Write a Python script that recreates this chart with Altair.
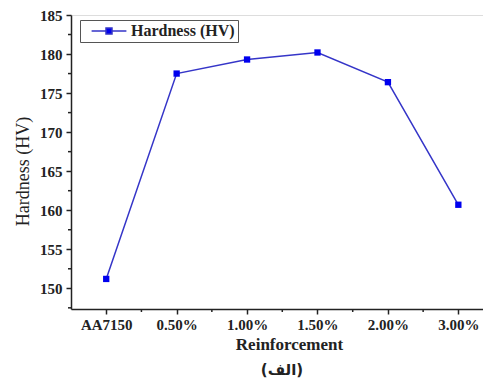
import altair as alt
import pandas as pd

categories = ["AA7150", "0.50%", "1.00%", "1.50%", "2.00%", "3.00%"]
positions = [1, 2, 3, 4, 5, 6]
hardness = [151.2, 177.5, 179.3, 180.2, 176.4, 160.7]
series = ["Hardness (HV)"] * 6

y_major = [150, 155, 160, 165, 170, 175, 180, 185]
y_minor = [147.5, 152.5, 157.5, 162.5, 167.5, 172.5, 177.5, 182.5]
x_minor = [1.5, 2.5, 3.5, 4.5, 5.5]

df = pd.DataFrame({"pos": positions, "cat": categories, "hv": hardness, "series": series})

cat_arr = "[" + ",".join(f"'{c}'" for c in categories) + "]"
x_label_expr = f"{cat_arr}[datum.value - 1]"

FONT = "Liberation Serif"
INK = "#222222"
W = 412
H = 294
xscale = alt.Scale(domain=[0.5, 6.35], nice=False, zero=False)
yscale = alt.Scale(domain=[147.35, 185], nice=False, zero=False)

x_axis = alt.Axis(values=positions, labelExpr=x_label_expr, title="Reinforcement",
                  labelFont=FONT, labelFontWeight="bold", labelFontSize=15, labelColor=INK,
                  titleFont=FONT, titleFontWeight="bold", titleFontSize=17, titleColor=INK,
                  titleX=218, titleY=35, titleBaseline="middle", titleAnchor="start",
                  titleAlign="center",
                  labelPadding=3, labelFlush=False, labelOverlap=False,
                  grid=False, domainColor=INK, domainWidth=1.5, tickColor=INK,
                  tickWidth=1.5, tickSize=5)
y_axis = alt.Axis(values=y_major, title="Hardness (HV)",
                  labelFont=FONT, labelFontWeight="bold", labelFontSize=15, labelColor=INK,
                  titleFont=FONT, titleFontWeight="normal", titleFontSize=18, titleColor=INK,
                  titleX=-48, titleY=156, titleBaseline="middle", titleAlign="center",
                  titleAnchor="start",
                  labelPadding=4, labelOverlap=False, labelFlush=False,
                  grid=False, domainColor=INK, domainWidth=1.5, tickColor=INK,
                  tickWidth=1.5, tickSize=5)

color = alt.Color("series:N", scale=alt.Scale(range=["#0000ee"]),
                  legend=alt.Legend(title=None, orient="none", legendX=9, legendY=5,
                                    strokeColor="#555", padding=3,
                                    symbolType="M-2.9,0L-0.5,0M0.5,0L2.9,0M-0.5,-0.5L0.5,-0.5L0.5,0.5L-0.5,0.5Z",
                                    symbolSize=144, symbolStrokeWidth=1.5, symbolOffset=18,
                                    symbolFillColor="#0000ee", symbolStrokeColor="#3535c8",
                                    labelFont=FONT, labelFontWeight="bold", labelFontSize=16,
                                    labelColor=INK, labelOffset=14))

base = alt.Chart(df)
line = base.mark_line(color="#3535c8", strokeWidth=1.5).encode(
    x=alt.X("pos:Q", scale=xscale, axis=x_axis),
    y=alt.Y("hv:Q", scale=yscale, axis=y_axis),
)
pts = base.mark_point(shape="square", filled=True, size=40, opacity=1).encode(
    x=alt.X("pos:Q", scale=xscale),
    y=alt.Y("hv:Q", scale=yscale),
    color=color,
)

ymin_df = pd.DataFrame({"v": y_minor})
xmin_df = pd.DataFrame({"v": x_minor})
minor_y = alt.Chart(ymin_df).mark_rule(color=INK, strokeWidth=1.5).encode(
    y=alt.Y("v:Q", scale=yscale), x=alt.value(-3), x2=alt.value(0)
)
minor_x = alt.Chart(xmin_df).mark_rule(color=INK, strokeWidth=1.5).encode(
    x=alt.X("v:Q", scale=xscale), y=alt.value(H), y2=alt.value(H + 3)
)

cap_df = pd.DataFrame({"t": ["(الف)"]})
caption = alt.Chart(cap_df).mark_text(font="DejaVu Sans", fontWeight="bold",
                                      fontSize=15, color=INK).encode(
    text="t:N", x=alt.value(211), y=alt.value(355)
)

chart = alt.layer(line, pts, minor_y, minor_x, caption).properties(
    width=W, height=H,
    padding={"left": 63, "top": 7, "right": 0, "bottom": 69},
    autosize=alt.AutoSizeParams(type="none"),
).configure_view(stroke=None).configure(background="white")

chart.save("out.html", embed_options={"renderer": "svg", "actions": False})
